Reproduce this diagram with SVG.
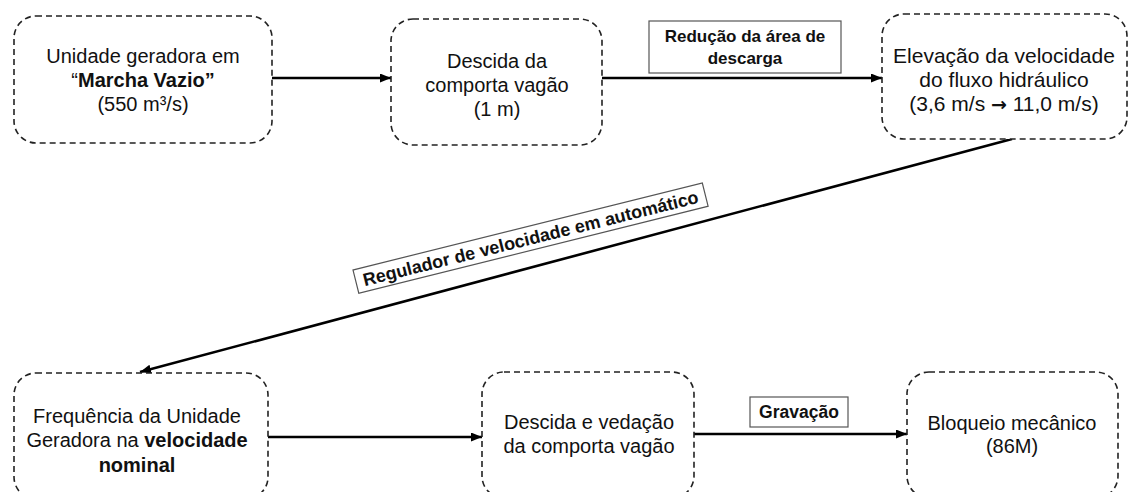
<svg xmlns="http://www.w3.org/2000/svg" width="1129" height="492" viewBox="0 0 1129 492">
<defs>
<style>
.node{fill:#fff;stroke:#222;stroke-width:1.6;stroke-dasharray:6 4}
.t{font-family:"Liberation Sans",Arial,sans-serif;font-size:20px;fill:#111;text-anchor:middle}
.b{font-weight:bold}
.lbl{fill:#fff;stroke:#555;stroke-width:1.2}
.lt{font-family:"Liberation Sans",Arial,sans-serif;font-size:17px;font-weight:bold;fill:#111;text-anchor:middle}
.edge{stroke:#000;stroke-width:2.6;fill:none;marker-end:url(#ah)}
</style>
<marker id="ah" markerUnits="userSpaceOnUse" markerWidth="12" markerHeight="10" refX="11" refY="4.5" orient="auto">
<path d="M0,0 L11,4.5 L0,9 z" fill="#000"/>
</marker>
</defs>
<rect width="1129" height="492" fill="#fff"/>
<g id="connectors">
<line class="edge" x1="272" y1="78" x2="391" y2="78"/>
<line class="edge" x1="602" y1="78" x2="882" y2="78"/>
<line class="edge" x1="1012" y1="139" x2="140" y2="372"/>
<line class="edge" x1="268" y1="437" x2="482" y2="437"/>
<line class="edge" x1="694" y1="434" x2="907" y2="434"/>
<g id="label-reducao">
<rect class="lbl" x="649" y="21" width="192" height="52"/>
<text class="lt" x="745" y="42">Redução da área de</text>
<text class="lt" x="745" y="64">descarga</text>
</g>
<g id="label-regulador" transform="translate(353,270) rotate(-14)">
<rect class="lbl" x="0" y="0" width="360" height="24"/>
<text class="lt" x="180" y="18.5" style="font-size:18px">Regulador de velocidade em automático</text>
</g>
<g id="label-gravacao">
<rect class="lbl" x="750" y="397" width="98" height="30"/>
<text class="lt" x="799" y="418" style="font-size:17.5px">Gravação</text>
</g>
</g>
<g id="n1">
<rect class="node" x="14" y="16" width="258" height="127" rx="22"/>
<text class="t" x="143" y="63">Unidade geradora em</text>
<text class="t" x="143" y="87">“<tspan class="b">Marcha Vazio”</tspan></text>
<text class="t" x="143" y="111">(550 m³/s)</text>
</g>
<g id="n2">
<rect class="node" x="391" y="19" width="211" height="126" rx="22"/>
<text class="t" x="497" y="68">Descida da</text>
<text class="t" x="497" y="92">comporta vagão</text>
<text class="t" x="497" y="116">(1 m)</text>
</g>
<g id="n3">
<rect class="node" x="882" y="14" width="245" height="125" rx="22"/>
<text class="t" x="1004" y="63" style="font-size:21px">Elevação da velocidade</text>
<text class="t" x="1004" y="87" style="font-size:21px">do fluxo hidráulico</text>
<text class="t" x="1004" y="111" style="font-size:21px">(3,6 m/s <tspan style="font-family:'DejaVu Sans',sans-serif;font-weight:bold;font-size:19px">→</tspan> 11,0 m/s)</text>
</g>
<g id="n4">
<rect class="node" x="14" y="373" width="254" height="126" rx="22"/>
<text class="t" x="137" y="423">Frequência da Unidade</text>
<text class="t" x="137" y="447">Geradora na <tspan class="b">velocidade</tspan></text>
<text class="t b" x="137" y="472">nominal</text>
</g>
<g id="n5">
<rect class="node" x="482" y="372" width="212" height="126" rx="22"/>
<text class="t" x="589" y="429">Descida e vedação</text>
<text class="t" x="589" y="453">da comporta vagão</text>
</g>
<g id="n6">
<rect class="node" x="907" y="372" width="211" height="126" rx="22"/>
<text class="t" x="1012" y="430">Bloqueio mecânico</text>
<text class="t" x="1012" y="453">(86M)</text>
</g>
</svg>
